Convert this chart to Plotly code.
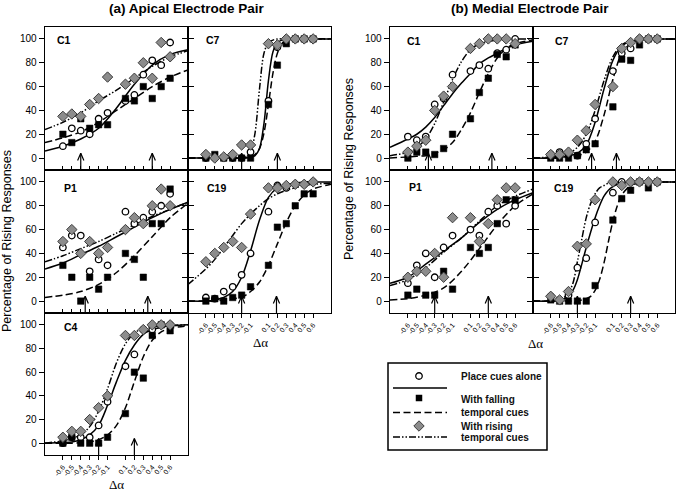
import plotly.graph_objects as go

W, H = 677, 491

# ---------------- shared scales ----------------
DELTA = [-0.6, -0.5, -0.4, -0.3, -0.2, -0.1, 0.1, 0.2, 0.3, 0.4, 0.5, 0.6]
TICK_TEXT = ["-0.6", "-0.5", "-0.4", "-0.3", "-0.2", "-0.1",
             "0.1", "0.2", "0.3", "0.4", "0.5", "0.6"]
Y_TICKS = [0, 20, 40, 60, 80, 100]

# ---------------- (a) Apical electrode pair ----------------
A_C1_PLACE = [10, 25, 23, 20, 33, 38, 48, 53, 70, 82, 78, 97]
A_C1_FALLING = [20, 13, 33, 25, 28, 28, 50, 48, 60, 50, 60, 67]
A_C1_RISING = [35, 37, 35, 45, 50, 68, 62, 67, 80, 67, 97, 85]
A_C1_FIT_X = [-0.8, -0.6, -0.4, -0.2, 0, 0.2, 0.4, 0.6, 0.8]
A_C1_FIT_PLACE = [6, 10, 16, 25, 42, 62, 78, 87, 91]
A_C1_FIT_FALLING = [13, 17, 22, 30, 40, 50, 60, 68, 74]
A_C1_FIT_RISING = [24, 30, 38, 48, 57, 67, 77, 85, 90]
A_C1_ARROWS = [-0.4, 0.4]

A_C7_PLACE = [0, 0, 0, 0, 0, 5, 48, 93, 100, 100, 100, 100]
A_C7_FALLING = [0, 3, 0, 0, 0, 0, 45, 78, 96, 100, 100, 100]
A_C7_RISING = [3, 0, 1, 3, 11, 11, 96, 95, 100, 100, 100, 100]
A_C7_FIT_X = [-0.8, -0.3, -0.2, -0.15, -0.1, -0.05, 0, 0.05, 0.1, 0.15, 0.2, 0.25, 0.3, 0.4, 0.8]
A_C7_FIT_PLACE = [0, 0, 0, 0, 0.5, 2, 8, 29, 65, 89, 97, 99, 100, 100, 100]
A_C7_FIT_FALLING = [0, 0, 0, 0.5, 1, 3, 8, 21, 45, 71, 88, 96, 98.5, 100, 100]
A_C7_FIT_RISING = [0, 0, 0, 1, 5, 21, 58, 88, 97, 99, 100, 100, 100, 100, 100]
A_C7_ARROWS = [-0.2, 0.2]

A_P1_PLACE = [45, 55, 55, 25, 35, 30, 75, 65, 70, 75, 80, 90]
A_P1_FALLING = [30, 20, 0, 20, 10, 20, 40, 35, 20, 65, 65, 94]
A_P1_RISING = [50, 60, 40, 50, 40, 45, 60, 70, 65, 80, 94, 80]
A_P1_FIT_X = [-0.8, -0.6, -0.4, -0.2, 0, 0.2, 0.4, 0.6, 0.8]
A_P1_FIT_PLACE = [27, 32, 39, 46, 54, 62, 70, 77, 83]
A_P1_FIT_FALLING = [3, 5, 8, 14, 24, 38, 54, 70, 82]
A_P1_FIT_RISING = [33, 38, 44, 50, 57, 64, 71, 77, 83]
A_P1_ARROWS = [-0.35, 0.35]

A_C19_PLACE = [3, 2, 8, 12, 22, 40, 75, 97, 95, 98, 98, 100]
A_C19_FALLING = [0, 2, 0, 3, 5, 12, 30, 62, 65, 80, 90, 90]
A_C19_RISING = [33, 40, 45, 50, 45, 73, 95, 95, 97, 98, 98, 100]
A_C19_FIT_X = [-0.8, -0.6, -0.5, -0.4, -0.3, -0.2, -0.1, 0, 0.1, 0.2, 0.3, 0.4, 0.5, 0.6, 0.8]
A_C19_FIT_PLACE = [0, 0, 1, 3, 8, 20, 42, 68, 87, 95, 98, 99, 100, 100, 100]
A_C19_FIT_FALLING = [0, 0, 0, 1, 2, 3, 8, 16, 30, 48, 66, 80, 89, 94, 98]
A_C19_FIT_RISING = [14, 27, 35, 45, 55, 65, 73, 80, 86, 90, 93, 95, 97, 98, 99]
A_C19_ARROWS = [-0.2, 0.19]

A_C4_PLACE = [0, 5, 5, 5, 15, 35, 65, 75, 96, 96, 100, 100]
A_C4_FALLING = [0, 5, 0, 0, 0, 5, 25, 60, 55, 91, 100, 95]
A_C4_RISING = [5, 10, 10, 20, 30, 40, 91, 91, 96, 100, 100, 100]
A_C4_FIT_X = [-0.8, -0.6, -0.5, -0.4, -0.3, -0.2, -0.1, 0, 0.1, 0.2, 0.3, 0.4, 0.5, 0.6, 0.8]
A_C4_FIT_PLACE = [0, 0.5, 1, 3, 7, 15, 32, 52, 70, 83, 92, 96, 98, 99, 100]
A_C4_FIT_FALLING = [0, 0, 0, 0.5, 1, 3, 7, 15, 30, 52, 73, 87, 94, 97, 99]
A_C4_FIT_RISING = [0, 2, 4, 7, 14, 27, 46, 68, 84, 93, 97, 98.5, 99, 99.5, 100]
A_C4_ARROWS = [-0.2, 0.2]

# ---------------- (b) Medial electrode pair ----------------
B_C1_PLACE = [18, 15, 18, 45, 50, 70, 73, 78, 75, 88, 91, 100]
B_C1_FALLING = [0, 5, 5, 3, 8, 20, 33, 55, 67, 87, 85, 95]
B_C1_RISING = [5, 10, 15, 40, 52, 60, 92, 96, 100, 100, 100, 96]
B_C1_FIT_X = [-0.8, -0.6, -0.5, -0.4, -0.3, -0.2, -0.1, 0, 0.1, 0.2, 0.3, 0.4, 0.5, 0.6, 0.8]
B_C1_FIT_PLACE = [9, 16, 20, 26, 34, 44, 54, 63, 71, 79, 84, 88, 92, 95, 98]
B_C1_FIT_FALLING = [0, 1, 1.5, 2, 4, 7, 13, 24, 38, 55, 71, 84, 92, 96, 99]
B_C1_FIT_RISING = [2, 5, 9, 16, 29, 47, 66, 81, 91, 96, 98, 99, 100, 100, 100]
B_C1_ARROWS = [-0.37, 0.34]

B_C7_PLACE = [3, 5, 3, 2, 12, 33, 73, 88, 92, 100, 100, 100]
B_C7_FALLING = [0, 0, 0, 2, 7, 12, 43, 83, 82, 95, 100, 100]
B_C7_RISING = [3, 3, 5, 15, 23, 45, 60, 92, 97, 100, 100, 100]
B_C7_FIT_X = [-0.8, -0.6, -0.5, -0.4, -0.3, -0.2, -0.1, 0, 0.1, 0.2, 0.3, 0.4, 0.5, 0.6, 0.8]
B_C7_FIT_PLACE = [0, 0, 0.5, 2, 4, 11, 30, 58, 82, 94, 98, 99, 100, 100, 100]
B_C7_FIT_FALLING = [0, 0, 0, 1, 2, 5, 14, 36, 66, 88, 96, 99, 100, 100, 100]
B_C7_FIT_RISING = [0, 1, 2, 4, 9, 20, 40, 65, 85, 95, 98, 99, 100, 100, 100]
B_C7_ARROWS = [-0.14, 0.14]

B_P1_PLACE = [15, 30, 40, 20, 45, 55, 60, 55, 75, 80, 65, 80]
B_P1_FALLING = [5, 10, 5, 5, 25, 10, 45, 40, 45, 65, 85, 85]
B_P1_RISING = [20, 25, 25, 40, 20, 70, 70, 50, 65, 85, 95, 95]
B_P1_FIT_X = [-0.8, -0.6, -0.4, -0.2, 0, 0.2, 0.4, 0.6, 0.8]
B_P1_FIT_PLACE = [15, 20, 31, 42, 53, 66, 77, 85, 91]
B_P1_FIT_FALLING = [1, 2, 5, 11, 25, 44, 64, 80, 90]
B_P1_FIT_RISING = [13, 18, 28, 41, 53, 67, 80, 88, 94]
B_P1_ARROWS = [-0.3, 0.3]

B_C19_PLACE = [4, 1, 5, 28, 36, 66, 91, 100, 100, 100, 100, 100]
B_C19_FALLING = [1, 0, 0, 0, 0, 13, 68, 86, 93, 100, 95, 100]
B_C19_RISING = [4, 1, 8, 46, 48, 85, 100, 97, 100, 100, 100, 100]
B_C19_FIT_X = [-0.8, -0.6, -0.5, -0.45, -0.4, -0.35, -0.3, -0.25, -0.2, -0.15, -0.1,
               -0.05, 0, 0.05, 0.1, 0.15, 0.2, 0.3, 0.4, 0.8]
B_C19_FIT_PLACE = [0, 0, 1, 2, 4, 9, 18, 31, 45, 58, 70, 80, 88, 93, 96, 98, 99, 100, 100, 100]
B_C19_FIT_FALLING = [0, 0, 0, 0, 0, 0, 0, 1, 2, 4, 9, 18, 32, 50, 67, 80, 89, 97, 99, 100]
B_C19_FIT_RISING = [0, 0, 1, 3, 7, 15, 33, 52, 70, 82, 90, 95, 97, 99, 99.5, 100, 100, 100, 100, 100]
B_C19_ARROWS = [-0.3, 0.3]

LEGEND_LABELS = ["Place cues alone", "With falling", "temporal cues", "With rising", "temporal cues"]

# ---------------- panel table (built from the arrays above) ----------------
PANELS = [
    ("C1", 45, 188, 27, 170, False, True, True, 10, 13,
     A_C1_PLACE, A_C1_FALLING, A_C1_RISING, A_C1_FIT_X, A_C1_FIT_PLACE, A_C1_FIT_FALLING, A_C1_FIT_RISING, A_C1_ARROWS),
    ("C7", 188, 331, 27, 170, False, False, False, 16, 13,
     A_C7_PLACE, A_C7_FALLING, A_C7_RISING, A_C7_FIT_X, A_C7_FIT_PLACE, A_C7_FIT_FALLING, A_C7_FIT_RISING, A_C7_ARROWS),
    ("P1", 45, 188, 170, 313, False, True, True, 17, 18,
     A_P1_PLACE, A_P1_FALLING, A_P1_RISING, A_P1_FIT_X, A_P1_FIT_PLACE, A_P1_FIT_FALLING, A_P1_FIT_RISING, A_P1_ARROWS),
    ("C19", 188, 331, 170, 313, True, False, False, 17, 18,
     A_C19_PLACE, A_C19_FALLING, A_C19_RISING, A_C19_FIT_X, A_C19_FIT_PLACE, A_C19_FIT_FALLING, A_C19_FIT_RISING, A_C19_ARROWS),
    ("C4", 45, 188, 313, 455, True, True, False, 17, 14,
     A_C4_PLACE, A_C4_FALLING, A_C4_RISING, A_C4_FIT_X, A_C4_FIT_PLACE, A_C4_FIT_FALLING, A_C4_FIT_RISING, A_C4_ARROWS),
    ("C1", 390, 533, 27, 170, False, True, True, 15, 14,
     B_C1_PLACE, B_C1_FALLING, B_C1_RISING, B_C1_FIT_X, B_C1_FIT_PLACE, B_C1_FIT_FALLING, B_C1_FIT_RISING, B_C1_ARROWS),
    ("C7", 533, 675, 27, 170, False, False, False, 20, 14,
     B_C7_PLACE, B_C7_FALLING, B_C7_RISING, B_C7_FIT_X, B_C7_FIT_PLACE, B_C7_FIT_FALLING, B_C7_FIT_RISING, B_C7_ARROWS),
    ("P1", 390, 533, 170, 313, True, True, True, 17, 17,
     B_P1_PLACE, B_P1_FALLING, B_P1_RISING, B_P1_FIT_X, B_P1_FIT_PLACE, B_P1_FIT_FALLING, B_P1_FIT_RISING, B_P1_ARROWS),
    ("C19", 533, 675, 170, 313, True, False, False, 19, 18,
     B_C19_PLACE, B_C19_FALLING, B_C19_RISING, B_C19_FIT_X, B_C19_FIT_PLACE, B_C19_FIT_FALLING, B_C19_FIT_RISING, B_C19_ARROWS),
]

FONT = "Arial, Liberation Sans, sans-serif"
SERIF = "Times New Roman, Liberation Serif, serif"
BLACK = "#000000"
DIAMOND_FILL = "#8c8c8c"
DIAMOND_EDGE = "#3c3c3c"
DASH_FALL = "7px,3.5px"
DASH_RISE = "7px,2px,1.5px,2px,1.5px,2px"

X_RANGE = [-0.8, 0.8]
Y_RANGE = [-10, 110]


def px(x):
    return x / W


def py(y):
    return 1 - y / H


fig = go.Figure()
layout = dict(
    width=W, height=H, margin=dict(l=0, r=0, t=0, b=0),
    paper_bgcolor="white", plot_bgcolor="rgba(0,0,0,0)",
    showlegend=False, font=dict(family=FONT, color=BLACK),
)
annotations = []
shapes = []

for i, p in enumerate(PANELS, start=1):
    (lab, l, r, t, b, bottom, leftcol, rightnb, ldx, ldy,
     place, fall, rise, fx, fplace, ffall, frise, arrows) = p
    xa = "x" if i == 1 else f"x{i}"
    ya = "y" if i == 1 else f"y{i}"
    xkey = "xaxis" if i == 1 else f"xaxis{i}"
    ykey = "yaxis" if i == 1 else f"yaxis{i}"
    layout[xkey] = dict(
        domain=[px(l), px(r)], range=X_RANGE, anchor=ya,
        tickmode="array", tickvals=DELTA, ticktext=TICK_TEXT,
        showticklabels=bottom, tickangle=-50,
        tickfont=dict(size=7, family=FONT, color=BLACK),
        ticks="outside" if bottom else "inside", ticklen=4, tickwidth=1.1, tickcolor=BLACK,
        showline=True, linecolor=BLACK, linewidth=1.3, mirror=True,
        showgrid=False, zeroline=False, fixedrange=True,
    )
    layout[ykey] = dict(
        domain=[py(b), py(t)], range=Y_RANGE, anchor=xa,
        tickmode="array", tickvals=Y_TICKS,
        showticklabels=leftcol,
        tickfont=dict(size=10, family=FONT, color=BLACK),
        ticks="outside", ticklen=5, tickwidth=1.1, tickcolor=BLACK,
        showline=True, linecolor=BLACK, linewidth=1.3,
        mirror="ticks" if rightnb else True,
        showgrid=False, zeroline=False, fixedrange=True,
    )

    # fitted curves
    fig.add_trace(go.Scatter(x=fx, y=fplace, mode="lines", xaxis=xa, yaxis=ya,
                             line=dict(color=BLACK, width=1.5, shape="spline", smoothing=0.9)))
    fig.add_trace(go.Scatter(x=fx, y=ffall, mode="lines", xaxis=xa, yaxis=ya,
                             line=dict(color=BLACK, width=1.5, dash=DASH_FALL, shape="spline", smoothing=0.9)))
    fig.add_trace(go.Scatter(x=fx, y=frise, mode="lines", xaxis=xa, yaxis=ya,
                             line=dict(color=BLACK, width=1.5, dash=DASH_RISE, shape="spline", smoothing=0.9)))

    # arrows marking thresholds
    ax, ay = [], []
    for a in arrows:
        ax += [a, a, None, a - 0.035, a, a + 0.035, None]
        ay += [Y_RANGE[0], 4, None, -2, 4, -2, None]
    fig.add_trace(go.Scatter(x=ax, y=ay, mode="lines", xaxis=xa, yaxis=ya,
                             line=dict(color=BLACK, width=1.2)))

    # data points
    fig.add_trace(go.Scatter(x=DELTA, y=place, mode="markers", xaxis=xa, yaxis=ya,
                             marker=dict(symbol="circle", size=6.5, color="white",
                                         line=dict(color=BLACK, width=1.3))))
    fig.add_trace(go.Scatter(x=DELTA, y=fall, mode="markers", xaxis=xa, yaxis=ya,
                             marker=dict(symbol="square", size=6.5, color=BLACK,
                                         line=dict(color=BLACK, width=0.5))))
    fig.add_trace(go.Scatter(x=DELTA, y=rise, mode="markers", xaxis=xa, yaxis=ya,
                             marker=dict(symbol="diamond", size=8, color=DIAMOND_FILL,
                                         line=dict(color=DIAMOND_EDGE, width=1))))

    annotations.append(dict(text=f"<b>{lab}</b>", x=px(l + ldx), y=py(t + ldy), xref="paper", yref="paper",
                            xanchor="left", yanchor="middle", showarrow=False,
                            font=dict(size=10.5, family=FONT, color=BLACK)))

# ---------------- overlay axis for the hand-drawn legend ----------------
layout["xaxis10"] = dict(domain=[0, 1], range=[0, W], visible=False, fixedrange=True, anchor="y10")
layout["yaxis10"] = dict(domain=[0, 1], range=[H, 0], visible=False, fixedrange=True, anchor="x10")

LEG_MX = 419
fig.add_trace(go.Scatter(x=[LEG_MX], y=[376], mode="markers", xaxis="x10", yaxis="y10",
                         marker=dict(symbol="circle", size=6.5, color="white", line=dict(color=BLACK, width=1.3))))
fig.add_trace(go.Scatter(x=[LEG_MX], y=[398], mode="markers", xaxis="x10", yaxis="y10",
                         marker=dict(symbol="square", size=6.5, color=BLACK)))
fig.add_trace(go.Scatter(x=[LEG_MX], y=[426], mode="markers", xaxis="x10", yaxis="y10",
                         marker=dict(symbol="diamond", size=8, color=DIAMOND_FILL, line=dict(color=DIAMOND_EDGE, width=1))))
fig.add_trace(go.Scatter(x=[393, 447], y=[388, 388], mode="lines", xaxis="x10", yaxis="y10",
                         line=dict(color=BLACK, width=1.5)))
fig.add_trace(go.Scatter(x=[393, 447], y=[412.5, 412.5], mode="lines", xaxis="x10", yaxis="y10",
                         line=dict(color=BLACK, width=1.5, dash=DASH_FALL)))
fig.add_trace(go.Scatter(x=[393, 447], y=[437, 437], mode="lines", xaxis="x10", yaxis="y10",
                         line=dict(color=BLACK, width=1.5, dash=DASH_RISE)))

shapes.append(dict(type="rect", xref="paper", yref="paper", x0=px(388), x1=px(547), y0=py(450), y1=py(363),
                   line=dict(color=BLACK, width=1.5)))
for txt, yy in zip(LEGEND_LABELS, [376, 399, 412.5, 426, 437.5]):
    annotations.append(dict(text=f"<b>{txt}</b>", x=px(459), y=py(yy), xref="paper", yref="paper",
                            xanchor="left", yanchor="middle", showarrow=False,
                            font=dict(size=10, family=FONT, color="#111111")))

# ---------------- titles & axis titles ----------------
annotations += [
    dict(text="<b>(a) Apical Electrode Pair</b>", x=px(187), y=py(9), xref="paper", yref="paper",
         showarrow=False, xanchor="center", yanchor="middle", font=dict(size=13.5, family=FONT, color=BLACK)),
    dict(text="<b>(b) Medial Electrode Pair</b>", x=px(530), y=py(9), xref="paper", yref="paper",
         showarrow=False, xanchor="center", yanchor="middle", font=dict(size=13.5, family=FONT, color=BLACK)),
    dict(text="Percentage of Rising Responses", x=px(7), y=py(241), xref="paper", yref="paper",
         showarrow=False, textangle=-90, xanchor="center", yanchor="middle",
         font=dict(size=12.5, family=FONT, color=BLACK)),
    dict(text="Percentage of Rising Responses", x=px(349), y=py(169), xref="paper", yref="paper",
         showarrow=False, textangle=-90, xanchor="center", yanchor="middle",
         font=dict(size=12.5, family=FONT, color=BLACK)),
    dict(text="\u0394\u03b1", x=px(116), y=py(484), xref="paper", yref="paper", showarrow=False,
         xanchor="center", yanchor="middle", font=dict(size=13, family=SERIF, color=BLACK)),
    dict(text="\u0394\u03b1", x=px(260), y=py(342), xref="paper", yref="paper", showarrow=False,
         xanchor="center", yanchor="middle", font=dict(size=13, family=SERIF, color=BLACK)),
    dict(text="\u0394\u03b1", x=px(535), y=py(343), xref="paper", yref="paper", showarrow=False,
         xanchor="center", yanchor="middle", font=dict(size=13, family=SERIF, color=BLACK)),
]

layout["annotations"] = annotations
layout["shapes"] = shapes
fig.update_layout(**layout)
fig.write_html("out.html", config={"displayModeBar": False, "staticPlot": True},
               post_script="document.body.style.margin='0';document.body.style.overflow='hidden';")
